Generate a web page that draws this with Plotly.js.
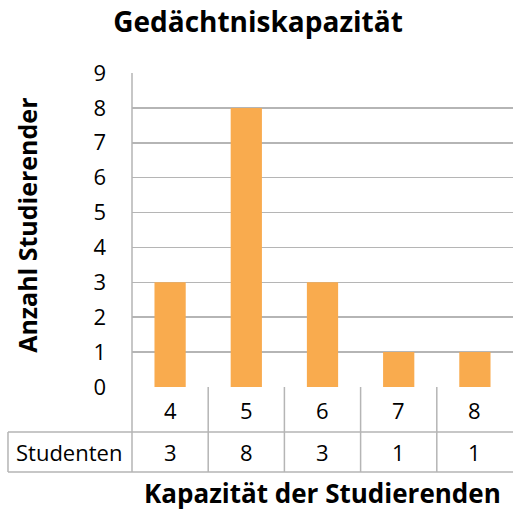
<!DOCTYPE html>
<html><head><meta charset="utf-8">
<script src="https://cdn.plot.ly/plotly-3.0.1.min.js"></script>
<style>html,body{margin:0;padding:0;background:#fff}</style>
</head><body><div id="chart" style="width:513px;height:512px"></div>
<script>
const categories = ['4', '5', '6', '7', '8'];
const studenten = [3, 8, 3, 1, 1];
const yTicks = [0, 1, 2, 3, 4, 5, 6, 7, 8, 9];
const seriesName = 'Studenten';
const chartTitle = 'Gedächtniskapazität';
const xTitle = 'Kapazität der Studierenden';
const yTitle = 'Anzahl Studierender';

const FONT = "'Open Sans', 'Noto Sans', sans-serif";
const LINE = '#b5b5b5';
// paper coords (relative to plot area: x 132..513, y 387..73)
const row1Y = -0.0717, row2Y = -0.207, rowSep = -0.1433, tableBottom = -0.2707;
const tableLeft = -0.3255;

const annotations = [];
categories.forEach((c, i) => {
  annotations.push({x: i, y: row1Y, xref: 'x', yref: 'paper', text: c, showarrow: false,
    xanchor: 'center', yanchor: 'middle', font: {family: FONT, size: 22, color: '#000'}});
  annotations.push({x: i, y: row2Y, xref: 'x', yref: 'paper', text: String(studenten[i]), showarrow: false,
    xanchor: 'center', yanchor: 'middle', font: {family: FONT, size: 22, color: '#000'}});
});
annotations.push({x: -0.166, xref: 'paper', y: row2Y, yref: 'paper', text: seriesName, showarrow: false,
  xanchor: 'center', yanchor: 'middle', font: {family: FONT, size: 22, color: '#000'}});
annotations.push({x: 0.5, xref: 'paper', y: -0.3376, yref: 'paper', text: '<b>' + xTitle + '</b>',
  showarrow: false, xanchor: 'center', yanchor: 'middle', font: {family: FONT, size: 26, color: '#000'}});
annotations.push({x: -0.276, xref: 'paper', y: 0.516, yref: 'paper', text: '<b>' + yTitle + '</b>',
  showarrow: false, textangle: -90, xanchor: 'center', yanchor: 'middle',
  font: {family: FONT, size: 25, color: '#000'}});

const shapes = [];
const ln = (xref, x0, x1, y0, y1) => shapes.push({type: 'line', xref: xref, yref: 'paper',
  x0: x0, x1: x1, y0: y0, y1: y1, line: {color: LINE, width: 1.5}});
ln('paper', tableLeft, 1, rowSep, rowSep);
ln('paper', tableLeft, 1, tableBottom, tableBottom);
ln('paper', tableLeft, tableLeft, rowSep, tableBottom);
ln('paper', 0, 0, 1, tableBottom);
[0.5, 1.5, 2.5, 3.5].forEach(x => ln('x', x, x, 0, tableBottom));

Plotly.newPlot('chart', [{
  type: 'bar', x: categories, y: studenten, name: seriesName,
  marker: {color: '#F9AB4E'}, hoverinfo: 'x+y'
}], {
  width: 513, height: 512,
  margin: {l: 132, r: 0, t: 73, b: 125},
  paper_bgcolor: '#fff', plot_bgcolor: '#fff',
  showlegend: false, bargap: 0.59,
  title: {text: '<b>' + chartTitle + '</b>', x: 0.503, xanchor: 'center', y: 0.957, yanchor: 'middle',
    font: {family: FONT, size: 28, color: '#000'}},
  xaxis: {type: 'category', range: [-0.5, 4.5], showticklabels: false, showgrid: false,
    zeroline: false, showline: false, ticks: '', fixedrange: true},
  yaxis: {range: [0, 9], tickvals: yTicks, showgrid: true, gridcolor: LINE, gridwidth: 1.5,
    zeroline: false, showline: false, ticks: '', ticklabelstandoff: 25,
    tickfont: {family: FONT, size: 22, color: '#000'}, fixedrange: true},
  annotations: annotations, shapes: shapes
}, {displayModeBar: false, staticPlot: true});
</script></body></html>
